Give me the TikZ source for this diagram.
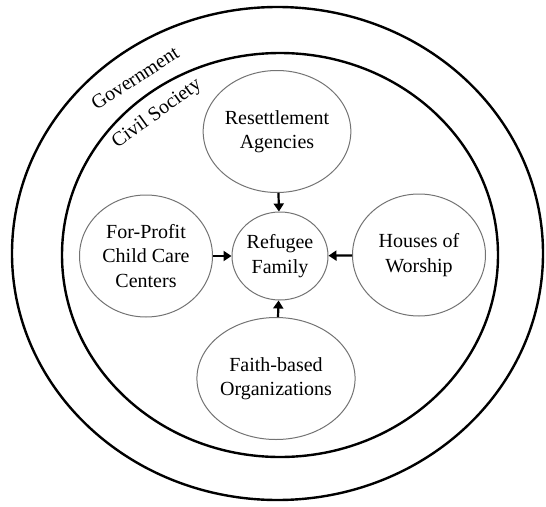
\documentclass[tikz,border=0pt]{standalone}
\usepackage{fontspec}
\setmainfont{Liberation Serif}
\usetikzlibrary{shapes.geometric,arrows.meta}
\begin{document}
\begin{tikzpicture}[x=1pt,y=-1pt,
  ring/.style={draw=black,line width=2.4pt},
  actor/.style={ellipse,draw=black!55,line width=1pt,align=center,
    minimum width=133pt,minimum height=122pt,inner sep=0pt,
    font=\fontsize{20}{24.5}\selectfont},
  core/.style={actor,minimum width=96pt,minimum height=88pt},
  flow/.style={line width=2.2pt,-{Triangle[length=8pt,width=10pt]}},
  layer/.style={font=\fontsize{20}{24}\selectfont,inner sep=0pt}]
\useasboundingbox (0,0) rectangle (546,506);
% nested spheres of influence
\draw[ring] (277.5,253.5) ellipse [x radius=265.5,y radius=246.5];
\draw[ring] (280,255) ellipse [x radius=218,y radius=202];
\node[layer,rotate=33] (gov) at (135,78) {Government};
\node[layer,rotate=36] (civ) at (157,114) {Civil Society};
% actors around the family
\node[core] (fam) at (280,256) {Refugee\\Family};
\node[actor] (res) at (277,131.5) {Resettlement\\Agencies};
\node[actor] (fpc) at (146,256) {For-Profit\\Child Care\\Centers};
\node[actor] (how) at (419,255) {Houses of\\Worship};
\node[actor] (fbo) at (276,378.5) {Faith-based\\Organizations};
\draw[flow] (res) -- (fam);
\draw[flow] (fpc) -- (fam);
\draw[flow] (how) -- (fam);
\draw[flow] (fbo) -- (fam);
\end{tikzpicture}
\end{document}
